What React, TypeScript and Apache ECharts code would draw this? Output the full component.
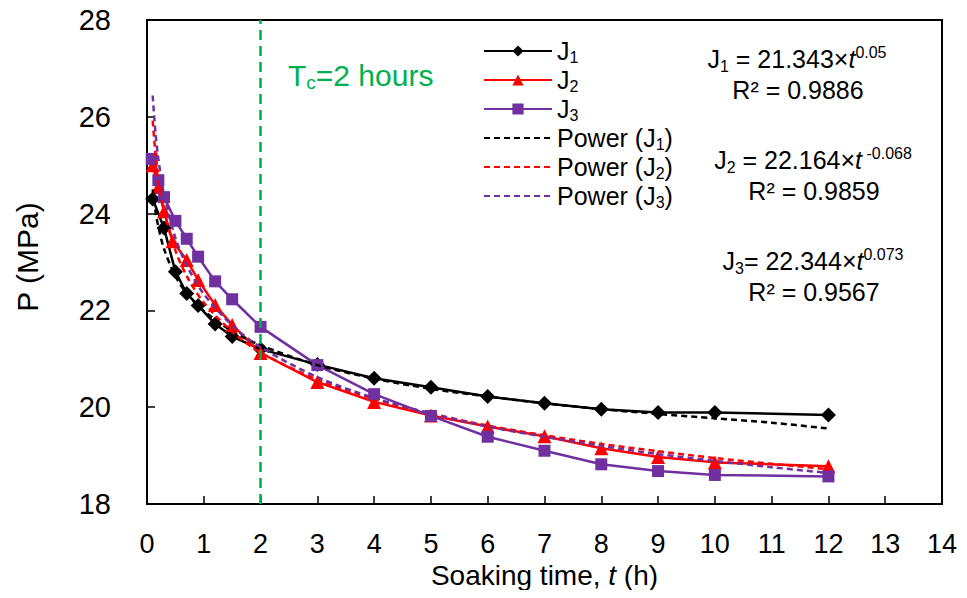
import React, { useEffect, useRef } from "react";
import * as echarts from "echarts";

// ---- Data ----
const tJ1 = [0.1, 0.3, 0.5, 0.7, 0.9, 1.2, 1.5, 2, 3, 4, 5, 6, 7, 8, 9, 10, 12];
const pJ1 = [24.3, 23.7, 22.8, 22.35, 22.1, 21.72, 21.46, 21.2, 20.88, 20.6, 20.41, 20.22, 20.08, 19.96, 19.89, 19.89, 19.84];

const tJ2 = [0.1, 0.2, 0.3, 0.45, 0.7, 0.9, 1.2, 1.5, 2, 3, 4, 5, 6, 7, 8, 9, 10, 12];
const pJ2 = [25.0, 24.55, 24.05, 23.43, 23.04, 22.63, 22.11, 21.7, 21.12, 20.52, 20.11, 19.83, 19.6, 19.4, 19.15, 18.97, 18.86, 18.78];

const tJ3 = [0.083, 0.2, 0.3, 0.5, 0.7, 0.9, 1.2, 1.5, 2, 3, 4, 5, 6, 7, 8, 9, 10, 12];
const pJ3 = [25.13, 24.69, 24.34, 23.85, 23.48, 23.11, 22.6, 22.23, 21.66, 20.87, 20.27, 19.82, 19.39, 19.1, 18.82, 18.68, 18.6, 18.57];

// Trend lines (power fits)
const tFit = [0.1, 0.15, 0.2, 0.3, 0.5, 0.7, 1, 1.5, 2, 3, 4, 5, 6, 7, 8, 9, 10, 11, 12];
const pFit1 = [24.5, 24.04, 23.73, 23.27, 22.71, 22.35, 21.99, 21.57, 21.28, 20.87, 20.59, 20.38, 20.22, 20.08, 19.96, 19.86, 19.77, 19.68, 19.56];
const pFit2 = [25.92, 25.22, 24.62, 24.05, 23.24, 22.71, 22.16, 21.56, 21.13, 20.57, 20.17, 19.87, 19.62, 19.42, 19.24, 19.09, 18.95, 18.83, 18.72];
const pFit3 = [26.44, 25.66, 25.13, 24.4, 23.5, 22.93, 22.34, 21.69, 21.24, 20.62, 20.19, 19.87, 19.6, 19.39, 19.2, 19.03, 18.89, 18.76, 18.64];

const xTicks = { min: 0, max: 14, interval: 1 };
const yTicks = { min: 18, max: 28, interval: 2 };
const tcHours = 2;

const dataNames = ["J1", "J2", "J3"];
const fitNames = ["Power (J1)", "Power (J2)", "Power (J3)"];
const legendLabels: Record<string, string> = {
  J1: "J{sub|1}",
  J2: "J{sub|2}",
  J3: "J{sub|3}",
  "Power (J1)": "Power (J{sub|1})",
  "Power (J2)": "Power (J{sub|2})",
  "Power (J3)": "Power (J{sub|3})",
};

const equations = [
  { eq: "J{sub|1} = 21.343×{it|t}{sup|0.05}", r2: "R² = 0.9886", x: 797, y: 59 },
  { eq: "J{sub|2} = 22.164×{it|t}{sup| -0.068}", r2: "R² = 0.9859", x: 813, y: 160 },
  { eq: "J{sub|3}= 22.344×{it|t}{sup|0.073}", r2: "R² = 0.9567", x: 813, y: 261 },
];

const FONT = "'Liberation Sans', Arial, Helvetica, sans-serif";
const BLACK = "#000000";
const RED = "#ff0000";
const PURPLE = "#7030a0";
const GREEN = "#00b050";

const zip = (a: number[], b: number[]) => a.map((v, i) => [v, b[i]]);

export default function App() {
  const ref = useRef<HTMLDivElement>(null);
  useEffect(() => {
    if (!ref.current) return;
    const chart = echarts.init(ref.current, null, { renderer: "svg" });

    const eqGraphics: any[] = [];
    equations.forEach((e) => {
      eqGraphics.push({
        type: "text",
        x: e.x,
        y: e.y,
        style: {
          text: e.eq,
          fontSize: 25,
          fontFamily: FONT,
          fill: BLACK,
          align: "center",
          verticalAlign: "middle",
          lineHeight: 30,
          rich: {
            sub: { fontSize: 16, lineHeight: 16, verticalAlign: "bottom", fontFamily: FONT, fill: BLACK },
            sup: { fontSize: 16, lineHeight: 16, verticalAlign: "top", fontFamily: FONT, fill: BLACK },
            it: { fontSize: 25, fontStyle: "italic", fontFamily: FONT, lineHeight: 30, fill: BLACK },
          },
        },
      });
      eqGraphics.push({
        type: "text",
        x: e.x + 1,
        y: e.y + 31,
        style: {
          text: e.r2,
          fontSize: 25,
          fontFamily: FONT,
          fill: BLACK,
          align: "center",
          verticalAlign: "middle",
        },
      });
    });

    const option: any = {
      animation: false,
      backgroundColor: "#ffffff",
      grid: {
        left: 147,
        right: 25,
        top: 20,
        bottom: 94,
        show: true,
        borderColor: BLACK,
        borderWidth: 2,
        backgroundColor: "transparent",
      },
      legend: {
        orient: "vertical",
        left: 478,
        top: 32,
        itemWidth: 68,
        itemHeight: 14,
        itemGap: 1,
        selectedMode: false,
        data: [
          ...dataNames.map((n) => ({ name: n })),
          ...fitNames.map((n) => ({ name: n, itemStyle: { opacity: 0 } })),
        ],
        formatter: (name: string) => legendLabels[name],
        textStyle: {
          fontSize: 25,
          fontFamily: FONT,
          color: BLACK,
          lineHeight: 28,
          rich: {
            sub: { fontSize: 16, lineHeight: 16, verticalAlign: "bottom", fontFamily: FONT, color: BLACK },
          },
        },
      },
      xAxis: {
        type: "value",
        min: xTicks.min,
        max: xTicks.max,
        interval: xTicks.interval,
        name: "Soaking time, {it|t} (h)",
        nameLocation: "middle",
        nameGap: 57,
        nameTextStyle: {
          fontSize: 28,
          fontFamily: FONT,
          color: BLACK,
          rich: { it: { fontSize: 28, fontStyle: "italic", fontFamily: FONT, color: BLACK } },
        },
        axisLine: { lineStyle: { color: BLACK, width: 2 } },
        axisTick: { inside: true, length: 8, lineStyle: { color: BLACK, width: 1.5 } },
        axisLabel: { fontSize: 27, fontFamily: FONT, color: BLACK, margin: 26 },
        splitLine: { show: false },
      },
      yAxis: {
        type: "value",
        min: yTicks.min,
        max: yTicks.max,
        interval: yTicks.interval,
        name: "P (MPa)",
        nameLocation: "middle",
        nameGap: 105,
        nameTextStyle: { fontSize: 30, fontFamily: FONT, color: BLACK, padding: [0, 0, 0, 10] },
        axisLine: { lineStyle: { color: BLACK, width: 2 } },
        axisTick: { inside: true, length: 8, lineStyle: { color: BLACK, width: 1.5 } },
        axisLabel: { fontSize: 29, fontFamily: FONT, color: BLACK, margin: 36 },
        splitLine: { show: false },
      },
      graphic: [
        {
          type: "text",
          x: 288,
          y: 75,
          style: {
            text: "T{sub|c}=2 hours",
            fontSize: 30,
            fontFamily: FONT,
            fill: GREEN,
            verticalAlign: "middle",
            lineHeight: 34,
            rich: {
              sub: { fontSize: 19, lineHeight: 19, verticalAlign: "bottom", fontFamily: FONT, fill: GREEN },
            },
          },
        },
        ...eqGraphics,
      ],
      series: [
        {
          name: "J1",
          type: "line",
          data: zip(tJ1, pJ1),
          symbol: "diamond",
          symbolSize: 15,
          itemStyle: { color: BLACK },
          lineStyle: { color: BLACK, width: 2.5 },
          z: 3,
          markLine: {
            silent: true,
            symbol: "none",
            label: { show: false },
            lineStyle: { color: GREEN, width: 2.5, type: [10, 6] },
            data: [{ xAxis: tcHours }],
          },
        },
        {
          name: "J2",
          type: "line",
          data: zip(tJ2, pJ2),
          symbol: "triangle",
          symbolSize: 14,
          itemStyle: { color: RED },
          lineStyle: { color: RED, width: 2.5 },
          z: 3,
        },
        {
          name: "J3",
          type: "line",
          data: zip(tJ3, pJ3),
          symbol: "rect",
          symbolSize: 12,
          itemStyle: { color: PURPLE },
          lineStyle: { color: PURPLE, width: 2.5 },
          z: 3,
        },
        {
          name: "Power (J1)",
          type: "line",
          data: zip(tFit, pFit1),
          symbol: "none",
          smooth: 0.3,
          itemStyle: { color: BLACK },
          lineStyle: { color: BLACK, width: 2.5, type: [6, 4] },
          z: 4,
        },
        {
          name: "Power (J2)",
          type: "line",
          data: zip(tFit, pFit2),
          symbol: "none",
          smooth: 0.3,
          itemStyle: { color: RED },
          lineStyle: { color: RED, width: 2.5, type: [6, 4] },
          z: 4,
        },
        {
          name: "Power (J3)",
          type: "line",
          data: zip(tFit, pFit3),
          symbol: "none",
          smooth: 0.3,
          itemStyle: { color: PURPLE },
          lineStyle: { color: PURPLE, width: 2.5, type: [6, 4] },
          z: 4,
        },
      ],
    };
    chart.setOption(option);
    return () => chart.dispose();
  }, []);

  return <div ref={ref} style={{ width: 967, height: 598, margin: -8 }} />;
}
